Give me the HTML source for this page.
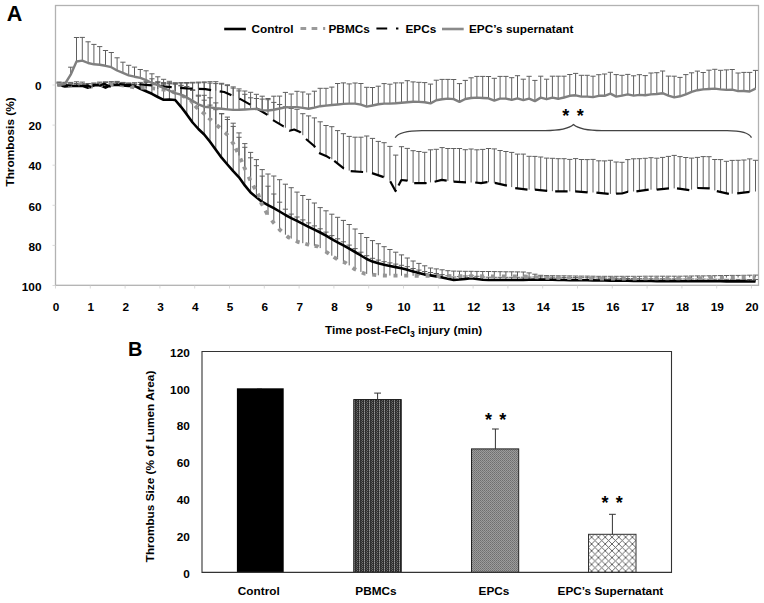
<!DOCTYPE html>
<html><head><meta charset="utf-8"><style>
html,body{margin:0;padding:0;background:#fff;}
body{width:764px;height:603px;overflow:hidden;}
svg{display:block;}
text{font-family:"Liberation Sans",sans-serif;font-weight:bold;fill:#000;}
</style></head><body>
<svg width="764" height="603" viewBox="0 0 764 603">
<defs>
<pattern id="pb" x="354" y="400" width="5" height="2" patternUnits="userSpaceOnUse">
<rect width="5" height="2" fill="#2d2d2d"/><rect x="0" y="0" width="1" height="1" fill="#969696"/><rect x="0" y="1" width="1" height="1" fill="#6e6e6e"/><rect x="3" y="0" width="1" height="1" fill="#6e6e6e"/><rect x="2" y="1" width="1" height="1" fill="#555"/>
</pattern>
<pattern id="pe" width="2" height="2" patternUnits="userSpaceOnUse">
<rect width="2" height="2" fill="#9c9c9c"/><rect width="1" height="1" fill="#6e6e6e"/><rect x="1" y="1" width="1" height="1" fill="#7a7a7a"/>
</pattern>
<pattern id="ps" width="6.8" height="6.8" patternUnits="userSpaceOnUse">
<rect width="6.8" height="6.8" fill="#fff"/>
<path d="M0 0L6.8 6.8M6.8 0L0 6.8" stroke="#555" stroke-width="0.9"/>
</pattern>
</defs>

<text x="6.8" y="21" font-size="21.5">A</text>
<rect x="55.5" y="5.5" width="703" height="279.8" fill="none" stroke="#b2b2b2" stroke-width="1.3"/>
<path d="M52.5 85.0H55.5M52.5 125.1H55.5M52.5 165.2H55.5M52.5 205.3H55.5M52.5 245.4H55.5M52.5 285.5H55.5M55.5 285.5V288.5M90.3 285.5V288.5M125.1 285.5V288.5M159.9 285.5V288.5M194.7 285.5V288.5M229.5 285.5V288.5M264.3 285.5V288.5M299.1 285.5V288.5M333.9 285.5V288.5M368.7 285.5V288.5M403.5 285.5V288.5M438.3 285.5V288.5M473.1 285.5V288.5M507.9 285.5V288.5M542.7 285.5V288.5M577.5 285.5V288.5M612.3 285.5V288.5M647.1 285.5V288.5M681.9 285.5V288.5M716.7 285.5V288.5M751.5 285.5V288.5" stroke="#cfcfcf" stroke-width="0.8" fill="none"/>
<text x="41.5" y="90.2" font-size="11.8" text-anchor="end">0</text>
<text x="41.5" y="130.3" font-size="11.8" text-anchor="end">20</text>
<text x="41.5" y="170.4" font-size="11.8" text-anchor="end">40</text>
<text x="41.5" y="210.5" font-size="11.8" text-anchor="end">60</text>
<text x="41.5" y="250.6" font-size="11.8" text-anchor="end">80</text>
<text x="41.5" y="290.7" font-size="11.8" text-anchor="end">100</text>
<text x="56.1" y="311.3" font-size="11.8" text-anchor="middle">0</text>
<text x="90.9" y="311.3" font-size="11.8" text-anchor="middle">1</text>
<text x="125.7" y="311.3" font-size="11.8" text-anchor="middle">2</text>
<text x="160.5" y="311.3" font-size="11.8" text-anchor="middle">3</text>
<text x="195.3" y="311.3" font-size="11.8" text-anchor="middle">4</text>
<text x="230.1" y="311.3" font-size="11.8" text-anchor="middle">5</text>
<text x="264.9" y="311.3" font-size="11.8" text-anchor="middle">6</text>
<text x="299.7" y="311.3" font-size="11.8" text-anchor="middle">7</text>
<text x="334.5" y="311.3" font-size="11.8" text-anchor="middle">8</text>
<text x="369.3" y="311.3" font-size="11.8" text-anchor="middle">9</text>
<text x="404.1" y="311.3" font-size="11.8" text-anchor="middle">10</text>
<text x="438.9" y="311.3" font-size="11.8" text-anchor="middle">11</text>
<text x="473.7" y="311.3" font-size="11.8" text-anchor="middle">12</text>
<text x="508.5" y="311.3" font-size="11.8" text-anchor="middle">13</text>
<text x="543.3" y="311.3" font-size="11.8" text-anchor="middle">14</text>
<text x="578.1" y="311.3" font-size="11.8" text-anchor="middle">15</text>
<text x="612.9" y="311.3" font-size="11.8" text-anchor="middle">16</text>
<text x="647.7" y="311.3" font-size="11.8" text-anchor="middle">17</text>
<text x="682.5" y="311.3" font-size="11.8" text-anchor="middle">18</text>
<text x="717.3" y="311.3" font-size="11.8" text-anchor="middle">19</text>
<text x="752.1" y="311.3" font-size="11.8" text-anchor="middle">20</text>
<text transform="translate(13.6,142) rotate(-90)" font-size="11.8" text-anchor="middle">Thrombosis (%)</text>
<text x="325" y="334" font-size="11.8">Time post-FeCl<tspan font-size="8.6" dy="3.4">3</tspan><tspan dy="-3.4"> injury (min)</tspan></text>
<path d="M70.7 74.7V67.2M68.1 67.2h5.2M76.5 61.5V37.5M73.9 37.5h5.2M82.3 60.6V37.4M79.7 37.4h5.2M88.1 63.0V41.8M85.5 41.8h5.2M93.9 64.3V44.4M91.3 44.4h5.2M99.7 64.7V46.6M97.1 46.6h5.2M105.5 65.8V50.5M102.9 50.5h5.2M111.3 67.2V52.5M108.7 52.5h5.2M117.1 70.5V57.8M114.5 57.8h5.2M122.9 72.8V62.2M120.3 62.2h5.2M128.7 75.3V65.3M126.1 65.3h5.2M134.5 76.7V67.1M131.9 67.1h5.2M140.3 77.9V69.5M137.7 69.5h5.2M146.1 80.1V70.8M143.5 70.8h5.2M151.9 83.0V73.8M149.3 73.8h5.2M157.8 85.1V76.8M155.2 76.8h5.2M163.6 88.0V79.3M161.0 79.3h5.2M169.4 90.7V81.3M166.8 81.3h5.2M175.2 93.1V83.0M172.6 83.0h5.2M181.0 94.7V82.7M178.4 82.7h5.2M186.8 97.6V82.5M184.2 82.5h5.2M192.6 100.9V82.3M190.0 82.3h5.2M198.4 104.3V82.1M195.8 82.1h5.2M204.2 106.7V81.9M201.6 81.9h5.2M210.0 107.4V81.7M207.4 81.7h5.2M215.8 108.2V81.7M213.2 81.7h5.2M221.6 108.8V83.3M219.0 83.3h5.2M227.4 109.4V84.8M224.8 84.8h5.2M233.2 109.9V86.9M230.6 86.9h5.2M239.0 109.8V88.9M236.4 88.9h5.2M244.8 109.5V91.0M242.2 91.0h5.2M250.6 109.1V92.3M248.0 92.3h5.2M256.4 108.9V94.3M253.8 94.3h5.2M262.2 110.1V96.2M259.6 96.2h5.2M268.0 110.5V98.5M265.4 98.5h5.2M273.8 109.7V96.2M271.2 96.2h5.2M279.6 108.5V96.1M277.0 96.1h5.2M285.4 107.4V92.4M282.8 92.4h5.2M291.2 107.1V94.0M288.6 94.0h5.2M297.0 107.1V91.3M294.4 91.3h5.2M302.8 107.9V92.0M300.2 92.0h5.2M308.6 108.8V94.0M306.0 94.0h5.2M314.4 107.6V91.2M311.8 91.2h5.2M320.2 106.2V88.3M317.6 88.3h5.2M326.0 105.6V88.3M323.4 88.3h5.2M331.8 105.0V87.1M329.2 87.1h5.2M337.6 104.5V83.5M335.0 83.5h5.2M343.4 103.9V82.9M340.8 82.9h5.2M349.2 103.6V83.9M346.6 83.9h5.2M355.1 103.6V83.0M352.5 83.0h5.2M360.9 104.6V83.5M358.3 83.5h5.2M366.7 106.6V87.3M364.1 87.3h5.2M372.5 105.5V87.5M369.9 87.5h5.2M378.3 104.3V86.2M375.7 86.2h5.2M384.1 103.6V83.6M381.5 83.6h5.2M389.9 103.6V84.2M387.3 84.2h5.2M395.7 103.3V82.9M393.1 82.9h5.2M401.5 102.8V82.9M398.9 82.9h5.2M407.3 102.2V80.7M404.7 80.7h5.2M413.1 101.8V81.9M410.5 81.9h5.2M418.9 101.9V82.3M416.3 82.3h5.2M424.7 102.2V82.6M422.1 82.6h5.2M430.5 103.4V84.1M427.9 84.1h5.2M436.3 100.2V80.2M433.7 80.2h5.2M442.1 99.3V79.4M439.5 79.4h5.2M447.9 98.6V79.4M445.3 79.4h5.2M453.7 99.1V79.5M451.1 79.5h5.2M459.5 101.9V83.6M456.9 83.6h5.2M465.3 99.0V80.4M462.7 80.4h5.2M471.1 98.0V77.8M468.5 77.8h5.2M476.9 97.6V76.4M474.3 76.4h5.2M482.7 98.0V76.4M480.1 76.4h5.2M488.5 98.3V76.5M485.9 76.5h5.2M494.3 100.6V78.3M491.7 78.3h5.2M500.1 98.6V76.4M497.5 76.4h5.2M505.9 98.6V76.4M503.3 76.4h5.2M511.7 99.9V77.7M509.1 77.7h5.2M517.5 98.3V75.7M514.9 75.7h5.2M523.3 100.1V79.2M520.7 79.2h5.2M529.1 98.6V76.3M526.5 76.3h5.2M534.9 101.1V80.4M532.3 80.4h5.2M540.7 97.6V76.2M538.1 76.2h5.2M546.6 99.2V79.2M544.0 79.2h5.2M552.4 97.6V76.2M549.8 76.2h5.2M558.2 98.8V76.2M555.6 76.2h5.2M564.0 97.5V76.2M561.4 76.2h5.2M569.8 95.8V74.5M567.2 74.5h5.2M575.6 95.3V73.4M573.0 73.4h5.2M581.4 96.6V75.3M578.8 75.3h5.2M587.2 96.6V75.3M584.6 75.3h5.2M593.0 97.1V76.2M590.4 76.2h5.2M598.8 95.8V74.7M596.2 74.7h5.2M604.6 95.8V74.0M602.0 74.0h5.2M610.4 93.6V72.3M607.8 72.3h5.2M616.2 96.6V74.6M613.6 74.6h5.2M622.0 95.6V75.3M619.4 75.3h5.2M627.8 94.3V74.4M625.2 74.4h5.2M633.6 95.6V75.8M631.0 75.8h5.2M639.4 94.9V74.7M636.8 74.7h5.2M645.2 95.3V75.6M642.6 75.6h5.2M651.0 94.4V73.0M648.4 73.0h5.2M656.8 94.0V72.7M654.2 72.7h5.2M662.6 93.2V71.0M660.0 71.0h5.2M668.4 95.6V76.1M665.8 76.1h5.2M674.2 97.4V76.2M671.6 76.2h5.2M680.0 96.3V77.4M677.4 77.4h5.2M685.8 94.4V74.6M683.2 74.6h5.2M691.6 91.8V72.8M689.0 72.8h5.2M697.4 90.2V71.1M694.8 71.1h5.2M703.2 89.4V72.5M700.6 72.5h5.2M709.0 89.0V70.2M706.4 70.2h5.2M714.8 88.6V69.3M712.2 69.3h5.2M720.6 89.4V70.3M718.0 70.3h5.2M726.4 89.9V69.9M723.8 69.9h5.2M732.2 89.7V69.5M729.6 69.5h5.2M738.1 91.1V73.0M735.5 73.0h5.2M743.9 91.0V72.4M741.3 72.4h5.2M749.7 91.5V72.4M747.1 72.4h5.2M755.5 88.6V70.4M752.9 70.4h5.2M59.1 85.0V83.0M56.5 83.0h5.2M64.9 86.5V84.5M62.3 84.5h5.2M70.7 86.0V84.0M68.1 84.0h5.2M76.5 86.0V84.0M73.9 84.0h5.2M82.3 85.7V83.7M79.7 83.7h5.2M88.1 87.7V85.7M85.5 85.7h5.2M93.9 85.2V83.2M91.3 83.2h5.2M99.7 85.1V83.1M97.1 83.1h5.2M105.5 87.6V85.6M102.9 85.6h5.2M111.3 84.9V82.9M108.7 82.9h5.2M117.1 84.7V82.7M114.5 82.7h5.2M122.9 85.4V83.4M120.3 83.4h5.2M128.7 86.0V84.0M126.1 84.0h5.2M134.5 85.9V83.9M131.9 83.9h5.2M140.3 88.9V86.5M137.7 86.5h5.2M146.1 91.3V81.3M143.5 81.3h5.2M151.9 93.8V78.8M149.3 78.8h5.2M157.8 97.0V81.7M155.2 81.7h5.2M163.6 99.8V84.2M161.0 84.2h5.2M169.4 99.5V83.8M166.8 83.8h5.2M175.2 100.0V83.8M172.6 83.8h5.2M181.0 106.8V85.9M178.4 85.9h5.2M186.8 114.4V82.8M184.2 82.8h5.2M192.6 122.5V89.8M190.0 89.8h5.2M198.4 129.0V95.2M195.8 95.2h5.2M204.2 134.5V95.3M201.6 95.3h5.2M210.0 141.8V97.8M207.4 97.8h5.2M215.8 149.8V102.9M213.2 102.9h5.2M221.6 157.7V113.6M219.0 113.6h5.2M227.4 164.5V119.5M224.8 119.5h5.2M233.2 171.2V126.4M230.6 126.4h5.2M239.0 177.3V137.3M236.4 137.3h5.2M244.8 185.4V147.3M242.2 147.3h5.2M250.6 192.5V157.8M248.0 157.8h5.2M256.4 197.3V165.7M253.8 165.7h5.2M262.2 201.9V176.1M259.6 176.1h5.2M268.0 205.2V186.2M265.4 186.2h5.2M273.8 208.1V194.0M271.2 194.0h5.2M279.6 211.5V202.2M277.0 202.2h5.2M285.4 215.0V209.2M282.8 209.2h5.2M291.2 218.1V214.1M288.6 214.1h5.2M297.0 220.9V217.0M294.4 217.0h5.2M302.8 223.8V219.9M300.2 219.9h5.2M308.6 226.8V222.9M306.0 222.9h5.2M314.4 229.6V225.9M311.8 225.9h5.2M320.2 232.5V228.8M317.6 228.8h5.2M326.0 235.7V232.1M323.4 232.1h5.2M331.8 239.2V235.6M329.2 235.6h5.2M337.6 242.4V238.8M335.0 238.8h5.2M343.4 245.3V241.8M340.8 241.8h5.2M349.2 248.6V245.1M346.6 245.1h5.2M355.1 252.0V248.6M352.5 248.6h5.2M360.9 255.5V252.2M358.3 252.2h5.2M366.7 259.0V255.7M364.1 255.7h5.2M372.5 261.6V258.3M369.9 258.3h5.2M378.3 263.3V260.1M375.7 260.1h5.2M384.1 264.8V261.7M381.5 261.7h5.2M389.9 266.0V262.9M387.3 262.9h5.2M395.7 267.1V264.1M393.1 264.1h5.2M401.5 268.3V265.3M398.9 265.3h5.2M407.3 269.7V266.7M404.7 266.7h5.2M413.1 271.4V268.5M410.5 268.5h5.2M418.9 273.1V270.1M416.3 270.1h5.2M424.7 274.5V271.5M422.1 271.5h5.2M430.5 275.4V272.5M427.9 272.5h5.2M436.3 276.4V273.5M433.7 273.5h5.2M442.1 277.4V274.6M439.5 274.6h5.2M447.9 278.7V275.8M445.3 275.8h5.2M453.7 279.9V277.0M451.1 277.0h5.2M459.5 279.5V276.6M456.9 276.6h5.2M465.3 278.9V276.0M462.7 276.0h5.2M471.1 278.3V275.6M468.5 275.6h5.2M476.9 279.0V276.3M474.3 276.3h5.2M482.7 279.7V277.0M480.1 277.0h5.2M488.5 280.0V277.2M485.9 277.2h5.2M494.3 280.0V277.3M491.7 277.3h5.2M500.1 280.0V277.3M497.5 277.3h5.2M505.9 280.0V277.3M503.3 277.3h5.2M511.7 280.0V277.3M509.1 277.3h5.2M517.5 280.0V277.3M514.9 277.3h5.2M523.3 279.9V277.2M520.7 277.2h5.2M529.1 279.8V277.1M526.5 277.1h5.2M534.9 279.6V277.0M532.3 277.0h5.2M540.7 279.5V276.9M538.1 276.9h5.2M546.6 279.6V277.0M544.0 277.0h5.2M552.4 279.7V277.2M549.8 277.2h5.2M558.2 279.9V277.3M555.6 277.3h5.2M564.0 280.0V277.4M561.4 277.4h5.2M569.8 280.1V277.5M567.2 277.5h5.2M575.6 280.1V277.6M573.0 277.6h5.2M581.4 280.2V277.7M578.8 277.7h5.2M587.2 280.3V277.8M584.6 277.8h5.2M593.0 280.4V277.9M590.4 277.9h5.2M598.8 280.5V278.0M596.2 278.0h5.2M604.6 280.5V278.1M602.0 278.1h5.2M610.4 280.6V278.2M607.8 278.2h5.2M616.2 280.7V278.3M613.6 278.3h5.2M622.0 280.8V278.4M619.4 278.4h5.2M627.8 280.8V278.5M625.2 278.5h5.2M633.6 280.9V278.6M631.0 278.6h5.2M639.4 281.0V278.7M636.8 278.7h5.2M645.2 281.0V278.7M642.6 278.7h5.2M651.0 281.0V278.8M648.4 278.8h5.2M656.8 281.1V278.8M654.2 278.8h5.2M662.6 281.1V278.8M660.0 278.8h5.2M668.4 281.1V278.9M665.8 278.9h5.2M674.2 281.1V278.9M671.6 278.9h5.2M680.0 281.2V279.0M677.4 279.0h5.2M685.8 281.2V279.0M683.2 279.0h5.2M691.6 281.2V279.0M689.0 279.0h5.2M697.4 281.2V279.1M694.8 279.1h5.2M703.2 281.3V279.1M700.6 279.1h5.2M709.0 281.3V279.2M706.4 279.2h5.2M714.8 281.3V279.2M712.2 279.2h5.2M720.6 281.3V279.3M718.0 279.3h5.2M726.4 281.4V279.3M723.8 279.3h5.2M732.2 281.4V279.3M729.6 279.3h5.2M738.1 281.4V279.4M735.5 279.4h5.2M743.9 281.4V279.4M741.3 279.4h5.2M749.7 281.5V279.5M747.1 279.5h5.2M755.5 281.5V279.5M752.9 279.5h5.2M59.1 85.0V82.0M56.5 82.0h5.2M64.9 85.3V82.3M62.3 82.3h5.2M70.7 85.4V82.4M68.1 82.4h5.2M76.5 84.8V81.8M73.9 81.8h5.2M82.3 85.1V82.1M79.7 82.1h5.2M88.1 86.5V83.5M85.5 83.5h5.2M93.9 86.2V83.2M91.3 83.2h5.2M99.7 85.1V82.1M97.1 82.1h5.2M105.5 84.8V81.8M102.9 81.8h5.2M111.3 84.6V81.6M108.7 81.6h5.2M117.1 84.4V81.4M114.5 81.4h5.2M122.9 85.4V82.4M120.3 82.4h5.2M128.7 86.5V83.5M126.1 83.5h5.2M134.5 87.5V84.5M131.9 84.5h5.2M140.3 87.7V84.7M137.7 84.7h5.2M146.1 87.9V84.9M143.5 84.9h5.2M151.9 88.2V84.8M149.3 84.8h5.2M157.8 89.0V84.2M155.2 84.2h5.2M163.6 89.7V83.6M161.0 83.6h5.2M169.4 90.4V83.1M166.8 83.1h5.2M175.2 92.7V84.1M172.6 84.1h5.2M181.0 95.3V85.3M178.4 85.3h5.2M186.8 97.8V86.5M184.2 86.5h5.2M192.6 102.7V90.4M190.0 90.4h5.2M198.4 108.9V96.1M195.8 96.1h5.2M204.2 113.6V100.2M201.6 100.2h5.2M210.0 119.1V105.1M207.4 105.1h5.2M215.8 124.3V109.7M213.2 109.7h5.2M221.6 129.4V113.8M219.0 113.8h5.2M227.4 135.1V117.1M224.8 117.1h5.2M233.2 143.5V123.2M230.6 123.2h5.2M239.0 155.5V132.9M236.4 132.9h5.2M244.8 168.5V143.6M242.2 143.6h5.2M250.6 180.7V152.4M248.0 152.4h5.2M256.4 191.3V159.6M253.8 159.6h5.2M262.2 204.8V169.6M259.6 169.6h5.2M268.0 215.0V174.0M265.4 174.0h5.2M273.8 222.8V176.0M271.2 176.0h5.2M279.6 229.6V179.7M277.0 179.7h5.2M285.4 234.7V184.2M282.8 184.2h5.2M291.2 238.6V187.7M288.6 187.7h5.2M297.0 241.5V192.1M294.4 192.1h5.2M302.8 243.2V195.5M300.2 195.5h5.2M308.6 244.6V199.4M306.0 199.4h5.2M314.4 245.8V203.0M311.8 203.0h5.2M320.2 248.1V207.6M317.6 207.6h5.2M326.0 251.8V210.8M323.4 210.8h5.2M331.8 255.7V214.2M329.2 214.2h5.2M337.6 259.3V217.3M335.0 217.3h5.2M343.4 261.9V220.4M340.8 220.4h5.2M349.2 265.4V224.5M346.6 224.5h5.2M355.1 269.3V229.0M352.5 229.0h5.2M360.9 271.9V233.5M358.3 233.5h5.2M366.7 273.9V237.5M364.1 237.5h5.2M372.5 274.6V240.6M369.9 240.6h5.2M378.3 275.3V243.7M375.7 243.7h5.2M384.1 275.5V246.7M381.5 246.7h5.2M389.9 275.6V249.5M387.3 249.5h5.2M395.7 275.6V252.2M393.1 252.2h5.2M401.5 275.7V254.9M398.9 254.9h5.2M407.3 275.7V258.0M404.7 258.0h5.2M413.1 275.8V261.0M410.5 261.0h5.2M418.9 275.8V263.4M416.3 263.4h5.2M424.7 275.9V265.8M422.1 265.8h5.2M430.5 275.9V268.0M427.9 268.0h5.2M436.3 276.0V268.9M433.7 268.9h5.2M442.1 276.0V269.8M439.5 269.8h5.2M447.9 276.0V270.7M445.3 270.7h5.2M453.7 276.1V271.1M451.1 271.1h5.2M459.5 276.1V271.2M456.9 271.2h5.2M465.3 276.1V271.3M462.7 271.3h5.2M471.1 276.2V271.3M468.5 271.3h5.2M476.9 276.2V271.4M474.3 271.4h5.2M482.7 276.3V271.5M480.1 271.5h5.2M488.5 276.3V271.5M485.9 271.5h5.2M494.3 276.3V271.6M491.7 271.6h5.2M500.1 276.4V271.7M497.5 271.7h5.2M505.9 276.4V271.8M503.3 271.8h5.2M511.7 276.4V271.8M509.1 271.8h5.2M517.5 276.5V271.9M514.9 271.9h5.2M523.3 276.5V272.0M520.7 272.0h5.2M529.1 276.8V272.9M526.5 272.9h5.2M534.9 277.1V274.2M532.3 274.2h5.2M540.7 277.5V275.3M538.1 275.3h5.2M546.6 277.8V275.6M544.0 275.6h5.2M552.4 277.9V275.7M549.8 275.7h5.2M558.2 278.0V275.8M555.6 275.8h5.2M564.0 278.0V275.8M561.4 275.8h5.2M569.8 278.1V275.9M567.2 275.9h5.2M575.6 278.2V276.0M573.0 276.0h5.2M581.4 278.3V276.1M578.8 276.1h5.2M587.2 278.3V276.1M584.6 276.1h5.2M593.0 278.4V276.2M590.4 276.2h5.2M598.8 278.5V276.3M596.2 276.3h5.2M604.6 278.5V276.3M602.0 276.3h5.2M610.4 278.5V276.3M607.8 276.3h5.2M616.2 278.5V276.3M613.6 276.3h5.2M622.0 278.5V276.3M619.4 276.3h5.2M627.8 278.5V276.3M625.2 276.3h5.2M633.6 278.5V276.3M631.0 276.3h5.2M639.4 278.5V276.3M636.8 276.3h5.2M645.2 278.4V276.2M642.6 276.2h5.2M651.0 278.4V276.2M648.4 276.2h5.2M656.8 278.4V276.2M654.2 276.2h5.2M662.6 278.4V276.2M660.0 276.2h5.2M668.4 278.4V276.2M665.8 276.2h5.2M674.2 278.4V276.2M671.6 276.2h5.2M680.0 278.4V276.2M677.4 276.2h5.2M685.8 278.3V276.1M683.2 276.1h5.2M691.6 278.2V276.0M689.0 276.0h5.2M697.4 278.1V275.9M694.8 275.9h5.2M703.2 278.1V275.9M700.6 275.9h5.2M709.0 278.0V275.8M706.4 275.8h5.2M714.8 277.9V275.7M712.2 275.7h5.2M720.6 277.8V275.6M718.0 275.6h5.2M726.4 277.7V275.5M723.8 275.5h5.2M732.2 277.6V275.4M729.6 275.4h5.2M738.1 277.6V275.4M735.5 275.4h5.2M743.9 277.5V275.3M741.3 275.3h5.2M749.7 277.4V275.2M747.1 275.2h5.2M755.5 277.3V275.1M752.9 275.1h5.2M59.1 85.0V83.0M56.5 83.0h5.2M64.9 85.0V83.0M62.3 83.0h5.2M70.7 85.5V83.5M68.1 83.5h5.2M76.5 85.5V83.5M73.9 83.5h5.2M82.3 86.0V84.0M79.7 84.0h5.2M88.1 85.8V83.8M85.5 83.8h5.2M93.9 87.1V85.1M91.3 85.1h5.2M99.7 85.7V83.7M97.1 83.7h5.2M105.5 84.5V82.5M102.9 82.5h5.2M111.3 85.8V83.8M108.7 83.8h5.2M117.1 84.1V82.1M114.5 82.1h5.2M122.9 84.5V82.5M120.3 82.5h5.2M128.7 84.9V82.9M126.1 82.9h5.2M134.5 84.7V82.7M131.9 82.7h5.2M140.3 84.4V82.4M137.7 82.4h5.2M146.1 84.9V82.4M143.5 82.4h5.2M151.9 85.5V82.5M149.3 82.5h5.2M157.8 86.0V82.6M155.2 82.6h5.2M163.6 86.5V82.6M161.0 82.6h5.2M169.4 87.0V82.8M166.8 82.8h5.2M175.2 87.5V82.9M172.6 82.9h5.2M181.0 88.0V83.0M178.4 83.0h5.2M186.8 88.4V83.1M184.2 83.1h5.2M192.6 88.7V83.0M190.0 83.0h5.2M198.4 88.9V82.9M195.8 82.9h5.2M204.2 89.1V82.7M201.6 82.7h5.2M210.0 89.9V83.1M207.4 83.1h5.2M215.8 90.7V83.6M213.2 83.6h5.2M221.6 91.6V84.1M219.0 84.1h5.2M227.4 93.4V85.6M224.8 85.6h5.2M233.2 96.0V88.1M230.6 88.1h5.2M239.0 98.5V90.9M236.4 90.9h5.2M244.8 101.6V94.3M242.2 94.3h5.2M250.6 104.8V97.8M248.0 97.8h5.2M256.4 108.2V98.5M253.8 98.5h5.2M262.2 111.7V99.1M259.6 99.1h5.2M268.0 115.2V99.7M265.4 99.7h5.2M273.8 120.6V102.4M271.2 102.4h5.2M279.6 124.0V104.5M277.0 104.5h5.2M285.4 127.7V106.8M282.8 106.8h5.2M291.2 130.3V108.4M288.6 108.4h5.2M297.0 130.7V109.3M294.4 109.3h5.2M302.8 135.2V113.7M300.2 113.7h5.2M308.6 141.2V115.9M306.0 115.9h5.2M314.4 146.3V117.9M311.8 117.9h5.2M320.2 153.5V121.8M317.6 121.8h5.2M326.0 156.1V125.5M323.4 125.5h5.2M331.8 159.3V126.7M329.2 126.7h5.2M337.6 163.5V130.6M335.0 130.6h5.2M343.4 168.2V133.7M340.8 133.7h5.2M349.2 170.6V136.4M346.6 136.4h5.2M355.1 171.5V137.2M352.5 137.2h5.2M360.9 171.8V137.2M358.3 137.2h5.2M366.7 172.4V136.0M364.1 136.0h5.2M372.5 173.3V138.4M369.9 138.4h5.2M378.3 175.2V141.4M375.7 141.4h5.2M384.1 177.3V142.7M381.5 142.7h5.2M389.9 180.7V146.4M387.3 146.4h5.2M395.7 190.7V155.1M393.1 155.1h5.2M401.5 180.0V146.7M398.9 146.7h5.2M407.3 180.7V148.4M404.7 148.4h5.2M413.1 182.8V150.7M410.5 150.7h5.2M418.9 183.2V151.5M416.3 151.5h5.2M424.7 183.1V152.3M422.1 152.3h5.2M430.5 182.4V149.8M427.9 149.8h5.2M436.3 181.3V149.3M433.7 149.3h5.2M442.1 180.0V147.6M439.5 147.6h5.2M447.9 180.9V148.5M445.3 148.5h5.2M453.7 181.6V148.5M451.1 148.5h5.2M459.5 182.0V148.5M456.9 148.5h5.2M465.3 182.4V149.7M462.7 149.7h5.2M471.1 182.5V149.0M468.5 149.0h5.2M476.9 182.7V149.8M474.3 149.8h5.2M482.7 182.9V149.4M480.1 149.4h5.2M488.5 182.3V148.5M485.9 148.5h5.2M494.3 182.9V148.9M491.7 148.9h5.2M500.1 184.1V150.5M497.5 150.5h5.2M505.9 185.4V151.5M503.3 151.5h5.2M511.7 187.1V152.4M509.1 152.4h5.2M517.5 188.5V154.1M514.9 154.1h5.2M523.3 189.2V154.1M520.7 154.1h5.2M529.1 189.7V156.3M526.5 156.3h5.2M534.9 189.7V156.4M532.3 156.4h5.2M540.7 190.3V157.0M538.1 157.0h5.2M546.6 190.9V158.1M544.0 158.1h5.2M552.4 191.2V158.3M549.8 158.3h5.2M558.2 191.4V158.7M555.6 158.7h5.2M564.0 191.4V158.7M561.4 158.7h5.2M569.8 191.4V159.4M567.2 159.4h5.2M575.6 191.4V158.6M573.0 158.6h5.2M581.4 191.9V159.5M578.8 159.5h5.2M587.2 192.3V159.6M584.6 159.6h5.2M593.0 192.5V159.4M590.4 159.4h5.2M598.8 192.8V160.8M596.2 160.8h5.2M604.6 193.5V160.9M602.0 160.9h5.2M610.4 193.9V160.3M607.8 160.3h5.2M616.2 193.7V162.0M613.6 162.0h5.2M622.0 193.5V162.3M619.4 162.3h5.2M627.8 191.7V159.6M625.2 159.6h5.2M633.6 191.5V158.8M631.0 158.8h5.2M639.4 191.0V158.7M636.8 158.7h5.2M645.2 190.2V158.3M642.6 158.3h5.2M651.0 189.7V157.7M648.4 157.7h5.2M656.8 189.7V158.2M654.2 158.2h5.2M662.6 189.1V157.4M660.0 157.4h5.2M668.4 188.5V156.4M665.8 156.4h5.2M674.2 188.4V155.4M671.6 155.4h5.2M680.0 188.8V156.6M677.4 156.6h5.2M685.8 189.7V157.5M683.2 157.5h5.2M691.6 189.6V158.1M689.0 158.1h5.2M697.4 188.0V157.4M694.8 157.4h5.2M703.2 188.2V156.6M700.6 156.6h5.2M709.0 188.4V156.7M706.4 156.7h5.2M714.8 190.4V159.5M712.2 159.5h5.2M720.6 192.0V159.6M718.0 159.6h5.2M726.4 193.3V161.3M723.8 161.3h5.2M732.2 193.7V160.4M729.6 160.4h5.2M738.1 193.2V160.3M735.5 160.3h5.2M743.9 192.6V160.0M741.3 160.0h5.2M749.7 191.9V158.9M747.1 158.9h5.2M755.5 191.5V160.3M752.9 160.3h5.2" stroke="#5f5f5f" stroke-width="1" fill="none"/>
<polyline points="57.5,85.0 59.1,85.0 64.9,86.5 70.7,86.0 76.5,86.0 82.3,85.7 88.1,87.7 93.9,85.2 99.7,85.1 105.5,87.6 111.3,84.9 117.1,84.7 122.9,85.4 128.7,86.0 134.5,85.9 140.3,88.9 146.1,91.3 151.9,93.8 157.8,97.0 163.6,99.8 169.4,99.5 175.2,100.0 181.0,106.8 186.8,114.4 192.6,122.5 198.4,129.0 204.2,134.5 210.0,141.8 215.8,149.8 221.6,157.7 227.4,164.5 233.2,171.2 239.0,177.3 244.8,185.4 250.6,192.5 256.4,197.3 262.2,201.9 268.0,205.2 273.8,208.1 279.6,211.5 285.4,215.0 291.2,218.1 297.0,220.9 302.8,223.8 308.6,226.8 314.4,229.6 320.2,232.5 326.0,235.7 331.8,239.2 337.6,242.4 343.4,245.3 349.2,248.6 355.1,252.0 360.9,255.5 366.7,259.0 372.5,261.6 378.3,263.3 384.1,264.8 389.9,266.0 395.7,267.1 401.5,268.3 407.3,269.7 413.1,271.4 418.9,273.1 424.7,274.5 430.5,275.4 436.3,276.4 442.1,277.4 447.9,278.7 453.7,279.9 459.5,279.5 465.3,278.9 471.1,278.3 476.9,279.0 482.7,279.7 488.5,280.0 494.3,280.0 500.1,280.0 505.9,280.0 511.7,280.0 517.5,280.0 523.3,279.9 529.1,279.8 534.9,279.6 540.7,279.5 546.6,279.6 552.4,279.7 558.2,279.9 564.0,280.0 569.8,280.1 575.6,280.1 581.4,280.2 587.2,280.3 593.0,280.4 598.8,280.5 604.6,280.5 610.4,280.6 616.2,280.7 622.0,280.8 627.8,280.8 633.6,280.9 639.4,281.0 645.2,281.0 651.0,281.0 656.8,281.1 662.6,281.1 668.4,281.1 674.2,281.1 680.0,281.2 685.8,281.2 691.6,281.2 697.4,281.2 703.2,281.3 709.0,281.3 714.8,281.3 720.6,281.3 726.4,281.4 732.2,281.4 738.1,281.4 743.9,281.4 749.7,281.5 755.5,281.5" fill="none" stroke="#000" stroke-width="2.6" stroke-linejoin="round"/>
<path d="M57.5 85.0L59.1 85.0L61.5 85.1M68.0 85.4L70.0 85.5L72.0 85.3M78.5 84.7L80.0 84.5L82.4 85.1M88.7 86.7L90.0 87.0L92.6 86.5M99.0 85.2L100.0 85.0L103.0 84.9M109.5 84.7L113.5 84.5M119.9 84.9L123.9 85.6M130.3 86.7L134.2 87.4M140.7 87.7L144.7 87.8M151.2 88.1L155.1 88.6M161.6 89.4L165.6 89.9M171.9 91.3L175.5 92.9M181.5 95.5L185.1 97.1M190.6 100.3L193.2 103.4M195.1 105.8L196.4 107.3L198.0 108.6M202.1 111.9L203.7 113.2L205.2 114.6M208.6 117.8L210.1 119.2L211.6 120.5M216.8 125.2L218.3 126.5L219.8 127.8M225.0 132.5L226.5 133.8L227.7 135.4M231.7 141.3L232.9 142.9L233.8 144.7M235.7 148.4L236.6 150.2L237.4 152.0M240.4 158.5L241.2 160.3L242.0 162.1M243.9 166.4L244.8 168.5L245.5 170.1M248.6 176.7L249.4 178.5L250.4 180.3M253.2 185.6L253.9 186.8L255.2 189.1M257.8 193.8L258.5 195.0L259.3 197.5M260.9 202.1L261.2 203.0L262.7 205.7M265.4 210.7L267.0 213.6L267.4 214.2M271.8 220.3L273.0 221.9L274.3 223.4M278.7 228.5L280.0 230.0L281.5 231.3M286.8 235.9L288.3 237.2L290.1 238.1M295.9 240.9L297.7 241.8L299.6 242.3M305.3 243.8L307.0 244.3L309.2 244.7M314.6 245.8L317.5 246.4L318.4 247.0M325.5 251.5L327.3 252.6L328.9 253.7M333.7 257.0L336.0 258.5L337.2 259.0M343.1 261.8L345.8 263.0L346.6 263.6M352.7 267.8L354.3 269.0L356.1 269.8M361.9 272.4L364.9 273.7L365.6 273.8M372.3 274.6L376.3 275.1M382.9 275.5L386.9 275.6M393.5 275.6L397.5 275.6M404.2 275.7L408.2 275.7M414.7 275.8L418.7 275.8M425.6 275.9L429.6 275.9M436.5 276.0L440.0 276.0L440.5 276.0M447.4 276.0L451.4 276.1M458.3 276.1L462.3 276.1M469.2 276.2L473.2 276.2M480.1 276.2L484.1 276.3M491.0 276.3L495.0 276.3M501.9 276.4L505.9 276.4M512.8 276.4L516.8 276.5M523.7 276.5L525.0 276.5L527.7 276.7M534.6 277.1L538.6 277.4M545.5 277.8L549.5 277.9M556.4 277.9L560.4 278.0M567.3 278.1L571.3 278.1M578.2 278.2L582.2 278.3M589.1 278.4L593.1 278.4M600.0 278.5L604.0 278.5M610.9 278.5L614.9 278.5M621.8 278.5L625.8 278.5M632.7 278.5L636.7 278.5M643.6 278.4L647.6 278.4M654.5 278.4L658.5 278.4M665.4 278.4L669.4 278.4M676.3 278.4L680.0 278.4L680.3 278.4M687.2 278.3L691.2 278.2M698.1 278.1L702.1 278.1M709.0 278.0L713.0 277.9M719.9 277.8L723.9 277.8M730.8 277.7L734.8 277.6M741.7 277.5L745.7 277.4M752.6 277.3L755.5 277.3L755.5 277.3" fill="none" stroke="#969696" stroke-width="3.8" stroke-linejoin="round"/>
<path d="M59.3 85.0L65.0 85.0L70.0 85.5L71.7 85.5M79.3 85.8L82.0 86.0L87.0 85.3L91.2 87.2M99.3 85.9L104.0 83.8L110.0 86.5L110.6 86.2M119.3 84.2L120.0 84.2L127.0 85.0L131.6 84.8M139.3 84.5L140.6 84.4L151.7 85.4M159.3 86.1L165.4 86.7L171.7 87.2M180.2 87.9L186.4 88.4L192.6 88.7M198.8 88.9L205.4 89.2L211.1 90.1M219.7 91.3L224.2 92.0L230.5 94.8L231.4 95.2M239.4 98.6L240.0 98.9L250.3 104.6M256.8 108.5L262.4 111.8L267.4 114.9M273.0 120.1L283.6 126.4L283.7 126.4M289.3 130.6L289.5 130.7L294.2 129.5L300.0 131.9L300.7 132.7M306.0 139.0L314.2 146.0L315.1 147.3M319.0 153.0L327.2 156.6L330.2 158.4M334.3 160.8L343.7 168.4L344.0 168.5M350.7 171.2L363.1 172.0M372.0 173.1L383.7 177.1L383.7 177.1M390.2 181.3L395.5 191.0L396.1 189.8M398.5 185.4L401.4 180.0L407.3 180.7L407.6 180.8M414.2 183.2L425.6 183.1L426.6 183.0M434.6 181.7L441.8 179.9L446.7 180.7M453.6 181.6L466.0 182.4M475.2 182.5L481.0 183.2L487.0 182.1L487.5 182.1M494.8 182.9L506.9 185.6M515.2 188.2L527.5 189.7M534.9 189.7L547.2 190.9M555.2 191.4L567.6 191.4M575.2 191.4L587.6 192.3M596.4 192.6L608.7 193.9M616.1 193.7L622.0 193.5L627.9 191.7L628.2 191.7M636.4 191.4L648.7 189.7M656.7 189.7L669.0 188.4M677.0 188.4L689.3 190.2M697.3 188.0L709.7 188.4M716.8 191.1L728.9 193.9M737.2 193.3L749.5 191.9" fill="none" stroke="#000" stroke-width="2.2" stroke-linejoin="round"/>
<polyline points="57.5,85.0 59.1,85.0 64.9,84.0 70.7,74.7 76.5,61.5 82.3,60.6 88.1,63.0 93.9,64.3 99.7,64.7 105.5,65.8 111.3,67.2 117.1,70.5 122.9,72.8 128.7,75.3 134.5,76.7 140.3,77.9 146.1,80.1 151.9,83.0 157.8,85.1 163.6,88.0 169.4,90.7 175.2,93.1 181.0,94.7 186.8,97.6 192.6,100.9 198.4,104.3 204.2,106.7 210.0,107.4 215.8,108.2 221.6,108.8 227.4,109.4 233.2,109.9 239.0,109.8 244.8,109.5 250.6,109.1 256.4,108.9 262.2,110.1 268.0,110.5 273.8,109.7 279.6,108.5 285.4,107.4 291.2,107.1 297.0,107.1 302.8,107.9 308.6,108.8 314.4,107.6 320.2,106.2 326.0,105.6 331.8,105.0 337.6,104.5 343.4,103.9 349.2,103.6 355.1,103.6 360.9,104.6 366.7,106.6 372.5,105.5 378.3,104.3 384.1,103.6 389.9,103.6 395.7,103.3 401.5,102.8 407.3,102.2 413.1,101.8 418.9,101.9 424.7,102.2 430.5,103.4 436.3,100.2 442.1,99.3 447.9,98.6 453.7,99.1 459.5,101.9 465.3,99.0 471.1,98.0 476.9,97.6 482.7,98.0 488.5,98.3 494.3,100.6 500.1,98.6 505.9,98.6 511.7,99.9 517.5,98.3 523.3,100.1 529.1,98.6 534.9,101.1 540.7,97.6 546.6,99.2 552.4,97.6 558.2,98.8 564.0,97.5 569.8,95.8 575.6,95.3 581.4,96.6 587.2,96.6 593.0,97.1 598.8,95.8 604.6,95.8 610.4,93.6 616.2,96.6 622.0,95.6 627.8,94.3 633.6,95.6 639.4,94.9 645.2,95.3 651.0,94.4 656.8,94.0 662.6,93.2 668.4,95.6 674.2,97.4 680.0,96.3 685.8,94.4 691.6,91.8 697.4,90.2 703.2,89.4 709.0,89.0 714.8,88.6 720.6,89.4 726.4,89.9 732.2,89.7 738.1,91.1 743.9,91.0 749.7,91.5 755.5,88.6" fill="none" stroke="#7f7f7f" stroke-width="2.4" stroke-linejoin="round"/>
<path d="M224.2 29H245.9" stroke="#000" stroke-width="2.6"/>
<text x="251.5" y="33.2" font-size="11.8">Control</text>
<path d="M300.5 28.5H306.2M311.6 28.5H317.3M323.1 28.5H325.2" stroke="#9a9a9a" stroke-width="2.8"/>
<text x="328.5" y="33.2" font-size="11.8">PBMCs</text>
<path d="M376.4 28.5H387.2M396 28.5H398.4" stroke="#000" stroke-width="2"/>
<text x="405.5" y="33.2" font-size="11.8">EPCs</text>
<path d="M442 29H463.7" stroke="#8a8a8a" stroke-width="2.6"/>
<text x="469" y="33.2" font-size="11.8">EPC’s supernatant</text>
<path d="M395.2 137.8C398 132.5 408 130.6 422 130.6H545C560 130.6 569 128.5 573.5 124.5C578 128.5 587 130.6 602 130.6H727C740 130.6 749 132.5 751.5 137.6" fill="none" stroke="#444" stroke-width="1.3"/>
<text x="565.8" y="122.1" font-size="18" text-anchor="middle">*</text><text x="580.2" y="122.1" font-size="18" text-anchor="middle">*</text>
<text x="128" y="356.3" font-size="20">B</text>
<text x="189.8" y="577.6" font-size="11.8" text-anchor="end">0</text>
<text x="189.8" y="540.8" font-size="11.8" text-anchor="end">20</text>
<text x="189.8" y="504.0" font-size="11.8" text-anchor="end">40</text>
<text x="189.8" y="467.1" font-size="11.8" text-anchor="end">60</text>
<text x="189.8" y="430.3" font-size="11.8" text-anchor="end">80</text>
<text x="189.8" y="393.5" font-size="11.8" text-anchor="end">100</text>
<text x="189.8" y="356.7" font-size="11.8" text-anchor="end">120</text>
<text transform="translate(154.2,466.5) rotate(-90)" font-size="11.8" text-anchor="middle">Thrombus Size (% of Lumen Area)</text>
<rect x="236.9" y="388.3" width="46.8" height="184.1" fill="#000"/>
<rect x="353.8" y="399.6" width="47.4" height="172.8" fill="url(#pb)" stroke="#111" stroke-width="1"/>
<rect x="471.5" y="448.9" width="47.2" height="123.5" fill="url(#pe)" stroke="#222" stroke-width="1"/>
<rect x="588.5" y="534.3" width="47.5" height="38.1" fill="url(#ps)" stroke="#333" stroke-width="1"/>
<path d="M377.6 399.6V393.1M374.2 393.1h6.8M495.4 448.9V429M492 429h6.8M612.4 534.3V514.3M609 514.3h6.8M257 388.6h5" stroke="#333" stroke-width="1" fill="none"/>
<path d="M202 351.5H671.5V572.4H202Z" fill="none" stroke="#333" stroke-width="1.1"/>
<text x="488.5" y="426.4" font-size="18" text-anchor="middle">*</text><text x="502.8" y="426.4" font-size="18" text-anchor="middle">*</text>
<text x="604.9" y="508.9" font-size="18" text-anchor="middle">*</text><text x="619.2" y="508.9" font-size="18" text-anchor="middle">*</text>
<text x="258.8" y="595.2" font-size="11.8" text-anchor="middle">Control</text>
<text x="376" y="595.2" font-size="11.8" text-anchor="middle">PBMCs</text>
<text x="494" y="595.2" font-size="11.8" text-anchor="middle">EPCs</text>
<text x="610.4" y="595.2" font-size="11.8" text-anchor="middle">EPC’s Supernatant</text>
</svg>
</body></html>
